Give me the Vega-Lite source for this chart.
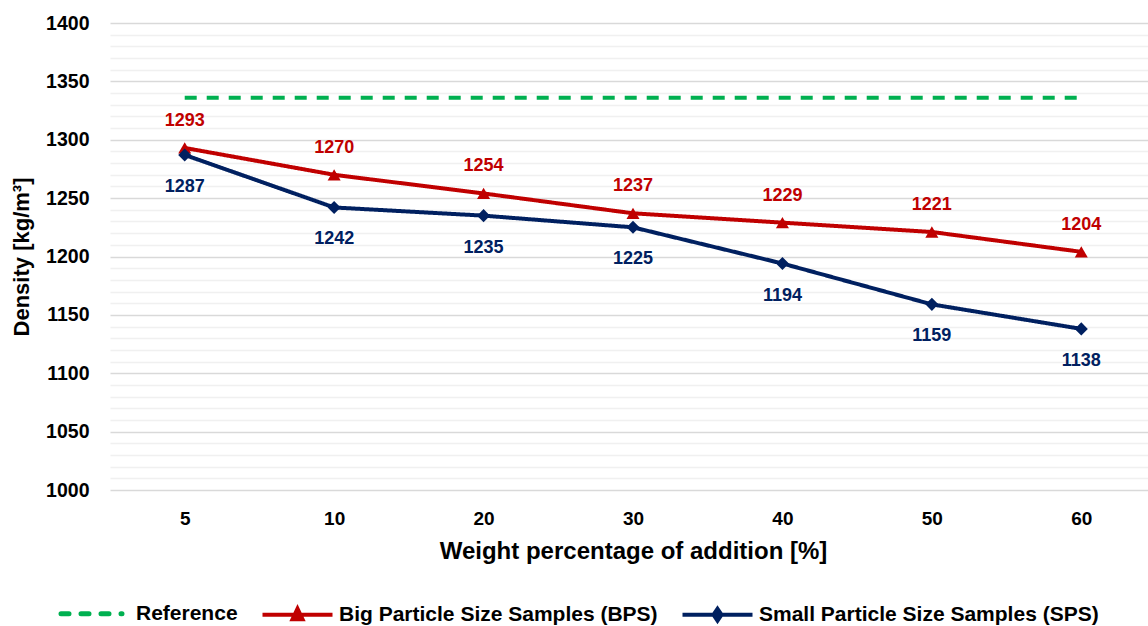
{
  "$schema": "https://vega.github.io/schema/vega-lite/v6.json",
  "width": 1046,
  "height": 467,
  "padding": {"left": 10, "top": 13, "right": 0, "bottom": 0},
  "background": "white",
  "config": {
    "view": {"stroke": null},
    "font": "Liberation Sans",
    "axis": {"labelFont": "Liberation Sans", "titleFont": "Liberation Sans", "labelFontWeight": "bold", "titleFontWeight": "bold", "labelColor": "#000000", "titleColor": "#000000"}
  },
  "data": {
    "values": [
      {"x": 5, "series": "Reference", "v": 1336},
      {"x": 10, "series": "Reference", "v": 1336},
      {"x": 20, "series": "Reference", "v": 1336},
      {"x": 30, "series": "Reference", "v": 1336},
      {"x": 40, "series": "Reference", "v": 1336},
      {"x": 50, "series": "Reference", "v": 1336},
      {"x": 60, "series": "Reference", "v": 1336},
      {"x": 5, "series": "Big Particle Size Samples (BPS)", "v": 1293},
      {"x": 10, "series": "Big Particle Size Samples (BPS)", "v": 1270},
      {"x": 20, "series": "Big Particle Size Samples (BPS)", "v": 1254},
      {"x": 30, "series": "Big Particle Size Samples (BPS)", "v": 1237},
      {"x": 40, "series": "Big Particle Size Samples (BPS)", "v": 1229},
      {"x": 50, "series": "Big Particle Size Samples (BPS)", "v": 1221},
      {"x": 60, "series": "Big Particle Size Samples (BPS)", "v": 1204},
      {"x": 5, "series": "Small Particle Size Samples (SPS)", "v": 1287},
      {"x": 10, "series": "Small Particle Size Samples (SPS)", "v": 1242},
      {"x": 20, "series": "Small Particle Size Samples (SPS)", "v": 1235},
      {"x": 30, "series": "Small Particle Size Samples (SPS)", "v": 1225},
      {"x": 40, "series": "Small Particle Size Samples (SPS)", "v": 1194},
      {"x": 50, "series": "Small Particle Size Samples (SPS)", "v": 1159},
      {"x": 60, "series": "Small Particle Size Samples (SPS)", "v": 1138}
    ]
  },
  "encoding": {
    "x": {
      "field": "x", "type": "ordinal",
      "scale": {"type": "point", "domain": [5, 10, 20, 30, 40, 50, 60], "padding": 0.5},
      "axis": {"title": "Weight percentage of addition [%]", "labelAngle": 0, "ticks": false, "domain": false, "grid": false, "labelFontSize": 19, "labelPadding": 19, "titleFontSize": 24, "titlePadding": 11}
    },
    "y": {
      "field": "v", "type": "quantitative",
      "scale": {"domain": [1000, 1400], "nice": false, "zero": false},
      "axis": {
        "title": "Density [kg/m³]",
        "values": [1000,1010,1020,1030,1040,1050,1060,1070,1080,1090,1100,1110,1120,1130,1140,1150,1160,1170,1180,1190,1200,1210,1220,1230,1240,1250,1260,1270,1280,1290,1300,1310,1320,1330,1340,1350,1360,1370,1380,1390,1400],
        "labelExpr": "datum.value % 50 === 0 ? datum.label : ''",
        "format": "d",
        "ticks": false, "domain": false, "grid": true,
        "gridColor": {"condition": {"test": "datum.value % 50 === 0", "value": "#D9D9D9"}, "value": "#F0F0F0"},
        "gridWidth": 1.6,
        "labelFontSize": 19.5, "labelPadding": 21,
        "titleFontSize": 22, "titlePadding": 12
      }
    },
    "color": {
      "field": "series", "type": "nominal",
      "scale": {"domain": ["Reference", "Big Particle Size Samples (BPS)", "Small Particle Size Samples (SPS)"], "range": ["#00B050", "#C00000", "#002060"]}
    }
  },
  "layer": [
    {
      "mark": {"type": "line", "strokeWidth": 4},
      "encoding": {
        "strokeDash": {"condition": {"test": "datum.series === 'Reference'", "value": [12, 10]}, "value": [1, 0]},
        "strokeWidth": {"condition": {"test": "datum.series === 'Reference'", "value": 5}, "value": 4},
        "strokeCap": {"value": "round"},
        "color": {
          "field": "series", "type": "nominal",
          "legend": {
            "orient": "none", "legendX": -26, "legendY": 580, "direction": "horizontal", "title": null,
            "symbolSize": 400, "symbolStrokeWidth": 4,
            "labelFontSize": 21, "labelFont": "Liberation Sans", "labelFontWeight": "bold", "labelColor": "#000000",
            "labelLimit": 0, "labelOffset": 31, "columnPadding": 16,
            "encode": {
              "symbols": {
                "update": {
                  "shape": {"signal": "datum.value === 'Reference' ? 'M0,-0.8M0,0.8M-3.35,0H-2.55M-1.35,0H-0.55M0.65,0H1.45M2.65,0H2.75' : (datum.value === 'Big Particle Size Samples (BPS)' ? 'M0,-0.8M0,0.8M-3.5,0H3.5M-0.5,0.45L0,-0.6L0.5,0.45Z' : 'M0,-0.8M0,0.8M-3.5,0H3.5M0,-0.6L0.4,0L0,0.6L-0.4,0Z')"},
                  "fill": {"scale": "color", "field": "value"},
                  "stroke": {"scale": "color", "field": "value"},
                  "strokeWidth": {"signal": "datum.value === 'Reference' ? 5 : 4"},
                  "strokeCap": {"signal": "datum.value === 'Reference' ? 'round' : 'butt'"}
                }
              }
            }
          }
        }
      }
    },
    {
      "transform": [{"filter": "datum.series !== 'Reference'"}],
      "mark": {"type": "point", "filled": true, "opacity": 1},
      "encoding": {
        "shape": {"field": "series", "type": "nominal", "scale": {"domain": ["Big Particle Size Samples (BPS)", "Small Particle Size Samples (SPS)"], "range": ["triangle-up", "diamond"]}, "legend": null},
        "size": {"value": 170}
      }
    },
    {
      "transform": [{"filter": "datum.series === 'Big Particle Size Samples (BPS)'"}],
      "mark": {"type": "text", "dy": -27, "fontSize": 18, "fontWeight": "bold", "font": "Liberation Sans", "baseline": "middle"},
      "encoding": {"text": {"field": "v", "type": "quantitative"}}
    },
    {
      "transform": [{"filter": "datum.series === 'Small Particle Size Samples (SPS)'"}],
      "mark": {"type": "text", "dy": 32, "fontSize": 18, "fontWeight": "bold", "font": "Liberation Sans", "baseline": "middle"},
      "encoding": {"text": {"field": "v", "type": "quantitative"}}
    }
  ]
}
